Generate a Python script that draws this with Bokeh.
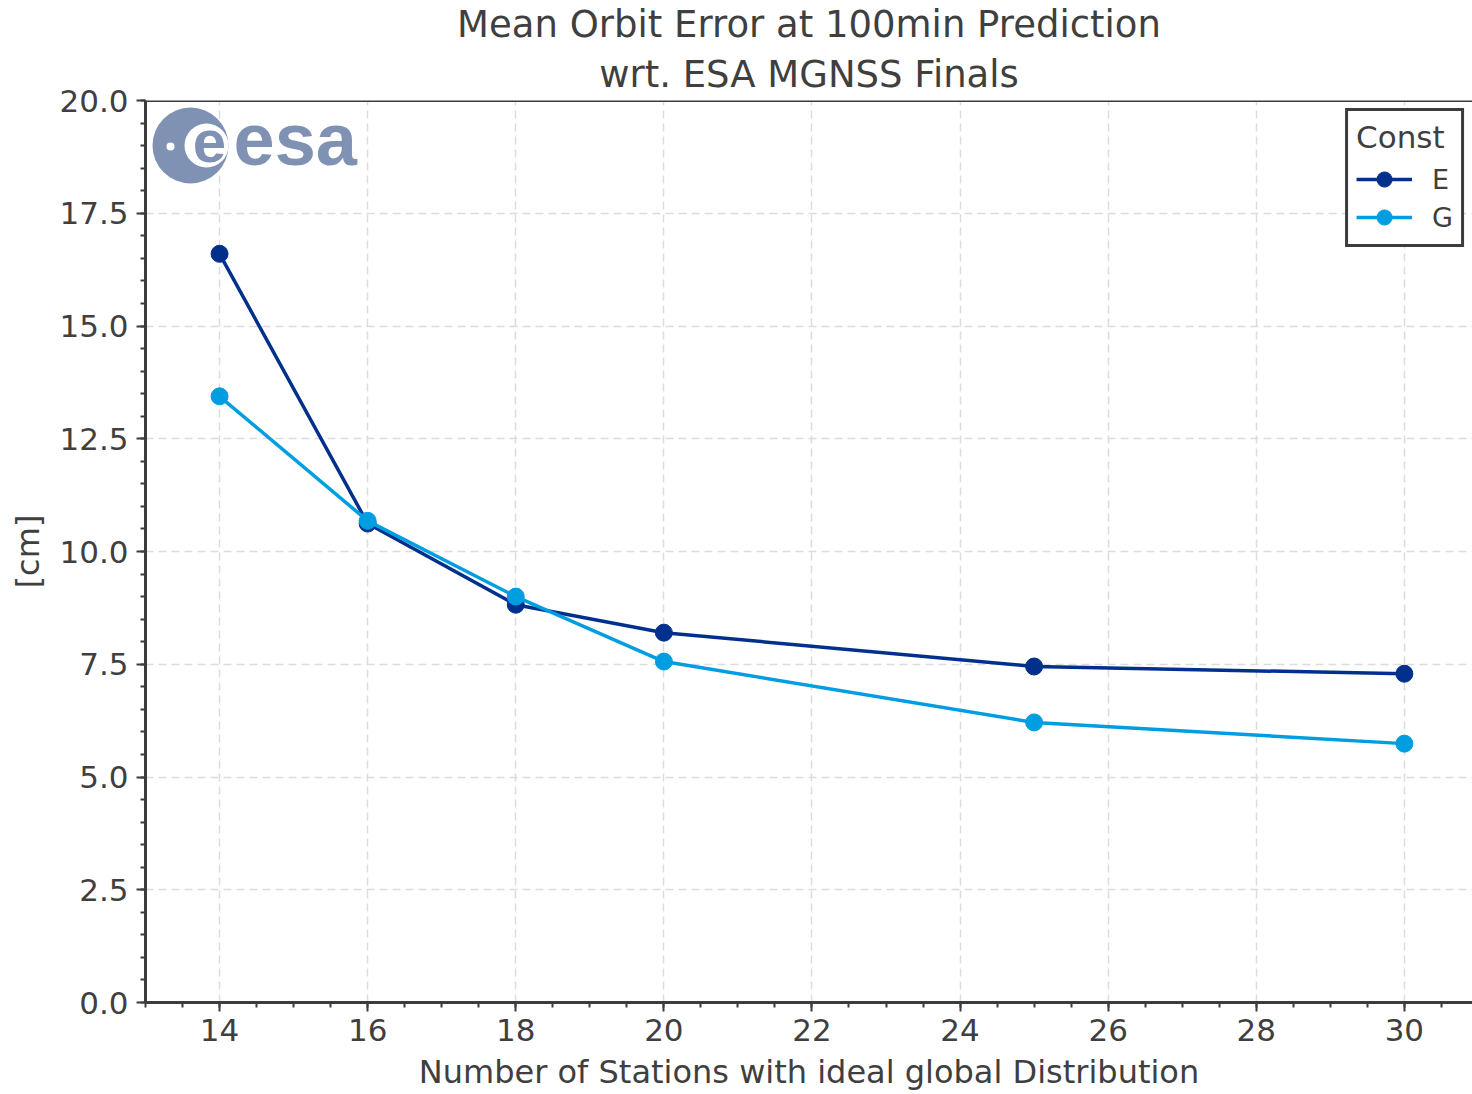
from bokeh.plotting import figure
from bokeh.models import Range1d, SingleIntervalTicker, NumeralTickFormatter, Span, Legend, LegendItem, Title
from bokeh.core.properties import value
from bokeh.embed import file_html
from bokeh.resources import INLINE

# ---- data ----
stations = [14, 16, 18, 20, 25, 30]
err_E = [16.6, 10.62, 8.82, 8.2, 7.45, 7.29]
err_G = [13.44, 10.68, 9.0, 7.56, 6.21, 5.74]
series_names = ["E", "G"]
series_colors = ["#00308c", "#009ee0"]
title_lines = ["Mean Orbit Error at 100min Prediction", "wrt. ESA MGNSS Finals"]
x_label = "Number of Stations with ideal global Distribution"
y_label = "[cm]"

TXT = "#3f3f3f"
FONT = "DejaVu Sans"

p = figure(width=1472, height=1094, output_backend="svg", toolbar_location=None,
           x_range=Range1d(13, 30.92), y_range=Range1d(0, 20),
           min_border_left=145, min_border_top=100, min_border_bottom=92, min_border_right=0)
p.outline_line_color = None
p.background_fill_color = "white"
p.border_fill_color = "white"
p.title.visible = False

# stacked centred title lines (first added sits nearest the frame)
for i, line in enumerate(reversed(title_lines)):
    t = Title(text=line, align="center", text_font=FONT, text_font_size="37px",
              text_font_style="normal", text_color=TXT,
              standoff=10 if i == 0 else 0, offset=0)
    p.add_layout(t, "above")

p.xaxis.ticker = SingleIntervalTicker(interval=2, num_minor_ticks=4)
p.yaxis.ticker = SingleIntervalTicker(interval=2.5, num_minor_ticks=5)
p.yaxis.formatter = NumeralTickFormatter(format="0.0")
p.xaxis.axis_label = x_label
p.yaxis.axis_label = y_label
for ax in (p.xaxis, p.yaxis):
    ax.axis_line_width = 3
    ax.axis_line_color = "#3c3c3c"
    ax.major_tick_line_color = "#3c3c3c"
    ax.minor_tick_line_color = "#3c3c3c"
    ax.major_tick_line_width = 2
    ax.minor_tick_line_width = 2
    ax.major_tick_in = 0
    ax.major_tick_out = 9
    ax.minor_tick_in = 0
    ax.minor_tick_out = 5
    ax.major_label_text_font = FONT
    ax.major_label_text_font_size = "31px"
    ax.major_label_text_color = TXT
    ax.axis_label_text_font = FONT
    ax.axis_label_text_font_size = "32px"
    ax.axis_label_text_font_style = "normal"
    ax.axis_label_text_color = TXT
p.xaxis.major_label_standoff = 7
p.yaxis.major_label_standoff = 8
p.xaxis.axis_label_standoff = 9
p.yaxis.axis_label_standoff = 9

p.grid.grid_line_color = "#dcdcdc"
p.grid.grid_line_width = 1.5
p.grid.grid_line_dash = "8 5"

p.add_layout(Span(location=20, dimension="width", line_color="#3c3c3c", line_width=3))

# ---- ESA logo (decoration) ----
def px_x(px):
    return 13 + (px - 145) / 74.06

def px_y(py):
    return (1002 - py) / 45.1

LOGO = "#7f92b4"
p.scatter([px_x(190)], [px_y(145)], size=76, color=LOGO, line_color=None)
p.scatter([px_x(206)], [px_y(145)], size=44, color="white", line_color=None)
p.scatter([px_x(170)], [px_y(146)], size=8, color="white", line_color=None)
p.text([px_x(209)], [px_y(141)], text=["e"], text_font=value("Liberation Sans"),
       text_font_size="60px", text_font_style="bold", text_color=LOGO,
       text_align="center", text_baseline="middle")
p.text([px_x(233)], [px_y(139)], text=["esa"], text_font=value("Liberation Sans"),
       text_font_size="74px", text_font_style="bold", text_color=LOGO,
       text_align="left", text_baseline="middle")

# ---- data series ----
items = []
for name, ys, col in zip(series_names, [err_E, err_G], series_colors):
    r1 = p.line(stations, ys, line_color=col, line_width=3.5)
    r2 = p.scatter(stations, ys, size=17, color=col, line_color=col)
    items.append(LegendItem(label=name, renderers=[r1, r2]))

legend = Legend(items=items, location="top_right")
legend.title = "Const"
legend.title_text_font = FONT
legend.title_text_font_size = "31px"
legend.title_text_font_style = "normal"
legend.title_text_color = TXT
legend.label_text_font = FONT
legend.label_text_font_size = "27px"
legend.label_text_color = TXT
legend.border_line_color = "#3c3c3c"
legend.border_line_width = 3
legend.border_line_alpha = 1
legend.glyph_width = 56
legend.glyph_height = 38
legend.label_standoff = 20
legend.spacing = 0
legend.padding = 8
legend.margin = 8
legend.background_fill_color = "white"
legend.background_fill_alpha = 1
p.add_layout(legend)

open("out.html", "w").write(file_html(p, INLINE))
